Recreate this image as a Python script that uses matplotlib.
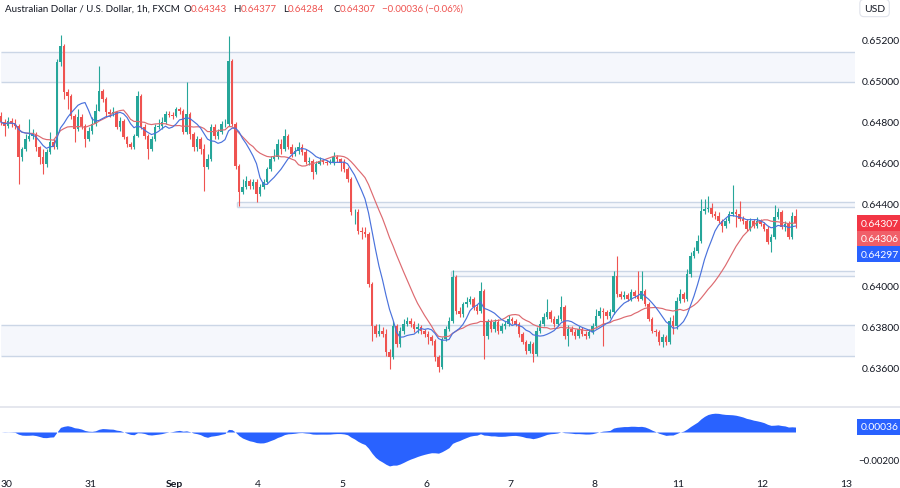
import matplotlib
matplotlib.use("Agg")
import matplotlib.pyplot as plt
from matplotlib.lines import Line2D
import numpy as np
import pandas as pd

plt.rcParams['font.family'] = ['Lato', 'DejaVu Sans']

# AUD/USD 1h bars (FXCM), prices in units of 0.00001
first_open = 64829
closes = [
    64800, 64781, 64805, 64790, 64781, 64629, 64668, 64717, 64732, 64741, 64678, 64629,
    64595, 64654, 64702, 64678, 65093, 65171, 64946, 64927, 64829, 64766, 64824, 64781,
    64717, 64756, 64790, 64854, 64951, 64912, 64849, 64839, 64849, 64776, 64805, 64727,
    64693, 64678, 64732, 64927, 64776, 64732, 64668, 64717, 64776, 64781, 64800, 64839,
    64834, 64829, 64863, 64854, 64751, 64839, 64741, 64678, 64717, 64668, 64581, 64620,
    64776, 64732, 64751, 64790, 64790, 65098, 64790, 64585, 64459, 64483, 64512, 64488,
    64507, 64449, 64483, 64507, 64571, 64620, 64629, 64693, 64668, 64732, 64678, 64644,
    64659, 64678, 64654, 64605, 64610, 64556, 64595, 64610, 64605, 64600, 64605, 64629,
    64620, 64605, 64571, 64522, 64361, 64361, 64268, 64263, 64254, 64010, 63805, 63766,
    63781, 63766, 63678, 63654, 63805, 63717, 63781, 63815, 63829, 63815, 63790, 63800,
    63781, 63766, 63751, 63732, 63654, 63605, 63742, 63790, 63829, 64044, 63878, 63863,
    63912, 63922, 63937, 63898, 63878, 63976, 63756, 63824, 63790, 63824, 63781, 63805,
    63815, 63839, 63829, 63815, 63766, 63727, 63683, 63717, 63668, 63781, 63815, 63849,
    63873, 63839, 63815, 63839, 63898, 63756, 63790, 63776, 63756, 63790, 63766, 63756,
    63776, 63805, 63854, 63878, 63873, 63854, 63873, 64049, 63961, 63946, 63956, 63937,
    63971, 63951, 63937, 63976, 63912, 63839, 63781, 63776, 63727, 63751, 63727, 63829,
    63805, 63927, 63961, 63937, 64059, 64146, 64171, 64220, 64366, 64376, 64381, 64351,
    64342, 64317, 64293, 64317, 64351, 64361, 64351, 64327, 64317, 64278, 64317, 64293,
    64317, 64303, 64278, 64215, 64239, 64337, 64361, 64288, 64303, 64239, 64343, 64307,
]
highs = [
    64849, 64815, 64824, 64820, 64815, 64790, 64678, 64741, 64815, 64766, 64751, 64683,
    64668, 64668, 64751, 64717, 65107, 65224, 65180, 64961, 64937, 64839, 64863, 64839,
    64790, 64776, 64824, 64888, 65073, 64961, 64922, 64863, 64873, 64854, 64824, 64815,
    64732, 64702, 64741, 64951, 64937, 64790, 64741, 64732, 64790, 64815, 64824, 64854,
    64854, 64849, 64873, 64873, 64863, 64995, 64849, 64751, 64732, 64727, 64693, 64644,
    64790, 64790, 64766, 64805, 64815, 65220, 65107, 64800, 64595, 64522, 64537, 64522,
    64522, 64522, 64498, 64522, 64581, 64634, 64668, 64717, 64717, 64766, 64741, 64693,
    64678, 64702, 64693, 64668, 64629, 64620, 64610, 64629, 64620, 64615, 64620, 64654,
    64639, 64624, 64620, 64581, 64532, 64376, 64376, 64288, 64288, 64263, 64020, 63815,
    63815, 63800, 63790, 63693, 63829, 63815, 63800, 63839, 63849, 63844, 63829, 63820,
    63810, 63790, 63781, 63761, 63742, 63663, 63751, 63805, 63849, 64078, 64054, 63898,
    63922, 63946, 63951, 63946, 63912, 64020, 63985, 63839, 63839, 63839, 63839, 63820,
    63829, 63859, 63849, 63839, 63824, 63776, 63737, 63732, 63727, 63800, 63834, 63868,
    63937, 63883, 63854, 63859, 63951, 63907, 63810, 63805, 63790, 63805, 63800, 63781,
    63790, 63820, 63888, 63898, 63893, 63883, 63888, 64073, 64146, 63976, 63976, 63966,
    63985, 63981, 64073, 64073, 63985, 63922, 63849, 63790, 63785, 63766, 63761, 63849,
    63859, 63946, 63985, 63971, 64083, 64166, 64190, 64249, 64424, 64424, 64439, 64405,
    64366, 64361, 64327, 64332, 64366, 64493, 64376, 64415, 64342, 64327, 64332, 64327,
    64337, 64327, 64312, 64293, 64254, 64395, 64381, 64371, 64317, 64317, 64361, 64377,
]
lows = [
    64785, 64732, 64771, 64776, 64766, 64498, 64610, 64659, 64707, 64717, 64659, 64595,
    64546, 64581, 64644, 64668, 64668, 65073, 64912, 64863, 64815, 64702, 64756, 64766,
    64678, 64707, 64741, 64781, 64854, 64898, 64829, 64824, 64829, 64766, 64756, 64717,
    64678, 64668, 64668, 64727, 64766, 64717, 64620, 64659, 64707, 64766, 64766, 64790,
    64824, 64815, 64824, 64839, 64741, 64741, 64717, 64659, 64659, 64644, 64463, 64571,
    64610, 64717, 64717, 64741, 64776, 64781, 64781, 64571, 64390, 64449, 64473, 64473,
    64473, 64410, 64439, 64473, 64498, 64561, 64610, 64620, 64644, 64659, 64668, 64629,
    64634, 64644, 64639, 64595, 64590, 64522, 64546, 64590, 64595, 64590, 64595, 64590,
    64605, 64561, 64556, 64507, 64346, 64303, 64254, 64229, 64239, 63995, 63732, 63751,
    63756, 63751, 63659, 63595, 63644, 63702, 63702, 63766, 63805, 63800, 63776, 63771,
    63766, 63751, 63717, 63712, 63634, 63580, 63595, 63732, 63781, 63820, 63863, 63849,
    63849, 63898, 63912, 63883, 63863, 63868, 63644, 63742, 63776, 63776, 63766, 63771,
    63790, 63805, 63815, 63805, 63751, 63717, 63668, 63673, 63629, 63659, 63771, 63805,
    63839, 63824, 63800, 63805, 63829, 63742, 63707, 63761, 63742, 63746, 63756, 63742,
    63746, 63766, 63795, 63844, 63707, 63839, 63844, 63863, 63946, 63937, 63937, 63927,
    63927, 63942, 63927, 63932, 63902, 63829, 63771, 63756, 63712, 63702, 63712, 63717,
    63766, 63790, 63917, 63922, 63927, 64044, 64137, 64161, 64210, 64351, 64361, 64337,
    64327, 64307, 64263, 64283, 64307, 64342, 64288, 64317, 64303, 64268, 64268, 64283,
    64283, 64293, 64268, 64205, 64166, 64229, 64327, 64278, 64268, 64229, 64229, 64284,
]

day_labels = ['30', '31', 'Sep', '4', '5', '6', '7', '8', '11', '12', '13']
price_ticks = [0.636, 0.638, 0.640, 0.644, 0.646, 0.648, 0.650, 0.652]

# drawn boxes: first bar, top, bottom
zone_start = [0, 67.4, 128.6, 0]
zone_top = [0.65141, 0.64410, 0.64073, 0.63810]
zone_bottom = [0.64995, 0.64385, 0.64049, 0.63659]

last_text = ['0.64307', '0.64306', '0.64297']
last_value = [0.64307, 0.64306, 0.64297]
osc_last_text = '0.00036'
osc_last_value = 0.00036

UP = '#26a69a'
DN = '#ef5350'
FAST = '#4a72dc'
SLOW = '#dd6a70'
TXT = '#131722'
ZONE_EDGE = '#cbd6e6'

W, H = 900, 489


def fy(px):
    return 1 - px / H


def price_at(px):
    return 0.652 - (px - 41) / 20500


def osc_at(px):
    return -(px - 433) / 14000


c = np.array(closes) / 1e5
hi = np.array(highs) / 1e5
lo = np.array(lows) / 1e5
o = np.concatenate([[first_open / 1e5], c[:-1]])
hi = np.maximum(hi, np.maximum(o, c))
lo = np.minimum(lo, np.minimum(o, c))
n = len(c)
x = np.arange(n)
col = np.where(c >= o, UP, DN)

s = pd.Series(c)
ma_fast = s.rolling(9, min_periods=1).mean()
ma_slow = s.rolling(20, min_periods=1).mean()
macd = s.ewm(span=12, adjust=False).mean() - s.ewm(span=26, adjust=False).mean()

fig = plt.figure(figsize=(W / 100, H / 100), dpi=100)
fig.patch.set_facecolor('white')
ax = fig.add_axes([0, fy(406), 855 / W, (406 - 22) / H])
osc = fig.add_axes([0, fy(474), 855 / W, (474 - 410) / H])

XL = (-0.286, 244.0)
for a in (ax, osc):
    a.set_xlim(*XL)
    for sp in a.spines.values():
        sp.set_visible(False)
    a.yaxis.tick_right()

ax.set_ylim(price_at(406), price_at(22))
osc.set_ylim(osc_at(474), osc_at(410))

# boxes
for s0, top, bot in zip(zone_start, zone_top, zone_bottom):
    x0 = max(s0, XL[0])
    ax.fill_between([x0, XL[1]], bot, top, color='#f5f7fc', lw=0, zorder=0)
    ax.hlines([top, bot], x0, XL[1], color=ZONE_EDGE, lw=1, zorder=1)
    if s0 > 0:
        ax.vlines(x0, bot, top, color=ZONE_EDGE, lw=1, zorder=1)

# candles
ax.vlines(x, lo, hi, colors=col, lw=0.8, zorder=2)
body = np.maximum(np.abs(c - o), 0.000012)
ax.bar(x, body, bottom=np.minimum(o, c), width=0.75, color=col, lw=0, zorder=3)

ax.plot(x, ma_slow, color=SLOW, lw=0.85, zorder=4)
ax.plot(x, ma_fast, color=FAST, lw=0.85, zorder=4)

ax.set_yticks(price_ticks)
ax.set_yticklabels([f"{t:.5f}" for t in price_ticks])
ax.tick_params(axis='y', length=0, pad=5, labelsize=7.5, labelcolor=TXT)
ax.tick_params(axis='x', bottom=False, labelbottom=False)

# last value tags
offsets = [0, -15, -29]
tag_colors = ['#f23645', '#f05f69', '#2962ff']
for txt, val, dy, tc in zip(last_text, last_value, offsets, tag_colors):
    ax.annotate(txt, xy=(1, val), xycoords=ax.get_yaxis_transform(),
                xytext=(4, dy * 0.72), textcoords='offset points',
                ha='left', va='center', fontsize=7.5, color='white',
                bbox=dict(boxstyle='square,pad=0.3', fc=tc, ec='none'),
                annotation_clip=False, zorder=10)

# oscillator pane
osc.fill_between(x, macd, 0, color='#2962ff', lw=0)
osc.set_yticks([-0.002])
osc.set_yticklabels(['\u22120.00200'])
osc.tick_params(axis='y', length=0, pad=2, labelsize=7, labelcolor=TXT)
osc.annotate(osc_last_text, xy=(1, osc_last_value), xycoords=osc.get_yaxis_transform(),
             xytext=(4, 0), textcoords='offset points', ha='left', va='center',
             fontsize=7.5, color='white',
             bbox=dict(boxstyle='square,pad=0.3', fc='#2962ff', ec='none'),
             annotation_clip=False, zorder=10)

day_ticks = [1.5 + 24 * k for k in range(len(day_labels))]
osc.set_xticks(day_ticks)
osc.set_xticklabels(day_labels)
osc.tick_params(axis='x', length=0, pad=4, labelsize=7.5, labelcolor=TXT)
for lab in osc.get_xticklabels():
    if lab.get_text() == 'Sep':
        lab.set_fontweight('bold')

fig.add_artist(Line2D([0, 1], [fy(408), fy(408)], color='#e0e3eb', lw=1.2))

fig.text(864 / W, fy(9), 'USD', fontsize=7.5, color=TXT, va='center', ha='left',
         bbox=dict(boxstyle='round,pad=0.4', fc='white', ec='#e0e3eb', lw=0.8))

# header line
renderer = fig.canvas.get_renderer()


def put(xpx, parts):
    for txt, cc in parts:
        t = fig.text(xpx / W, fy(9), txt, color=cc, fontsize=7, va='center', ha='left')
        xpx += t.get_window_extent(renderer).width


put(5, [('Australian Dollar / U.S. Dollar, 1h, FXCM', TXT)])
put(183, [('O', TXT), ('0.64343', DN)])
put(233, [('H', TXT), ('0.64377', DN)])
put(283, [('L', TXT), ('0.64284', DN)])
put(333, [('C', TXT), ('0.64307', DN)])
put(382, [('\u22120.00036 (\u22120.06%)', DN)])

fig.savefig('out.png', dpi=100)
